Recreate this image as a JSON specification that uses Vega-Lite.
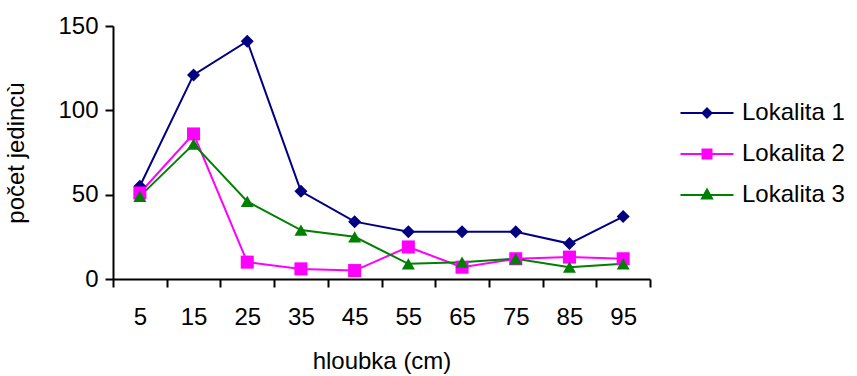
{
  "$schema": "https://vega.github.io/schema/vega-lite/v6.json",
  "autosize": {"type": "none"},
  "padding": {"left": 113, "top": 26, "right": 207, "bottom": 97},
  "width": 537,
  "height": 253,
  "background": "white",
  "config": {
    "view": {"stroke": null},
    "font": "Liberation Sans",
    "axis": {
      "domainColor": "black",
      "domainWidth": 2,
      "tickColor": "black",
      "tickWidth": 2,
      "tickSize": 8,
      "grid": false,
      "labelFont": "Liberation Sans",
      "labelFontSize": 24,
      "labelColor": "black",
      "titleFont": "Liberation Sans",
      "titleFontSize": 24,
      "titleFontWeight": "normal",
      "titleColor": "black"
    }
  },
  "data": {
    "values": [
      {"hloubka": 5, "lokalita": "Lokalita 1", "pocet": 55},
      {"hloubka": 15, "lokalita": "Lokalita 1", "pocet": 121},
      {"hloubka": 25, "lokalita": "Lokalita 1", "pocet": 141},
      {"hloubka": 35, "lokalita": "Lokalita 1", "pocet": 52},
      {"hloubka": 45, "lokalita": "Lokalita 1", "pocet": 34},
      {"hloubka": 55, "lokalita": "Lokalita 1", "pocet": 28},
      {"hloubka": 65, "lokalita": "Lokalita 1", "pocet": 28},
      {"hloubka": 75, "lokalita": "Lokalita 1", "pocet": 28},
      {"hloubka": 85, "lokalita": "Lokalita 1", "pocet": 21},
      {"hloubka": 95, "lokalita": "Lokalita 1", "pocet": 37},
      {"hloubka": 5, "lokalita": "Lokalita 2", "pocet": 51},
      {"hloubka": 15, "lokalita": "Lokalita 2", "pocet": 86},
      {"hloubka": 25, "lokalita": "Lokalita 2", "pocet": 10},
      {"hloubka": 35, "lokalita": "Lokalita 2", "pocet": 6},
      {"hloubka": 45, "lokalita": "Lokalita 2", "pocet": 5},
      {"hloubka": 55, "lokalita": "Lokalita 2", "pocet": 19},
      {"hloubka": 65, "lokalita": "Lokalita 2", "pocet": 7},
      {"hloubka": 75, "lokalita": "Lokalita 2", "pocet": 12},
      {"hloubka": 85, "lokalita": "Lokalita 2", "pocet": 13},
      {"hloubka": 95, "lokalita": "Lokalita 2", "pocet": 12},
      {"hloubka": 5, "lokalita": "Lokalita 3", "pocet": 49},
      {"hloubka": 15, "lokalita": "Lokalita 3", "pocet": 80},
      {"hloubka": 25, "lokalita": "Lokalita 3", "pocet": 46},
      {"hloubka": 35, "lokalita": "Lokalita 3", "pocet": 29},
      {"hloubka": 45, "lokalita": "Lokalita 3", "pocet": 25},
      {"hloubka": 55, "lokalita": "Lokalita 3", "pocet": 9},
      {"hloubka": 65, "lokalita": "Lokalita 3", "pocet": 10},
      {"hloubka": 75, "lokalita": "Lokalita 3", "pocet": 12},
      {"hloubka": 85, "lokalita": "Lokalita 3", "pocet": 7},
      {"hloubka": 95, "lokalita": "Lokalita 3", "pocet": 9}
    ]
  },
  "encoding": {
    "x": {
      "field": "hloubka",
      "type": "ordinal",
      "sort": null,
      "scale": {"type": "band", "paddingInner": 0, "paddingOuter": 0},
      "axis": {
        "title": "hloubka (cm)",
        "labelAngle": 0,
        "tickBand": "extent",
        "labelPadding": 18,
        "titlePadding": 20
      }
    },
    "y": {
      "field": "pocet",
      "type": "quantitative",
      "scale": {"domain": [0, 150], "nice": false},
      "axis": {
        "title": "počet jedincù",
        "values": [0, 50, 100, 150],
        "labelPadding": 7,
        "titlePadding": 29
      }
    }
  },
  "layer": [
    {
      "mark": {"type": "line", "strokeWidth": 2, "opacity": 1},
      "encoding": {
        "color": {
          "field": "lokalita",
          "type": "nominal",
          "scale": {
            "domain": ["Lokalita 1", "Lokalita 2", "Lokalita 3"],
            "range": ["#000080", "#FF00FF", "#008000"]
          },
          "legend": {
            "title": null,
            "orient": "none",
            "legendX": 582,
            "legendY": 75,
            "padding": 0,
            "symbolSize": 400,
            "symbolStrokeWidth": 2,
            "symbolType": {"expr": "datum.value === 'Lokalita 1' ? 'M-2.65,0H2.65M0,-0.45L0.45,0L0,0.45L-0.45,0Z' : datum.value === 'Lokalita 2' ? 'M-2.65,0H2.65M-0.45,-0.45H0.45V0.45H-0.45Z' : 'M-2.65,0H2.65M0,-0.55L0.5,0.35H-0.5Z'"},
            "labelFont": "Liberation Sans",
            "labelFontSize": 24,
            "labelColor": "black",
            "labelOffset": 23,
            "rowPadding": 17,
            "encode": {
              "symbols": {
                "fill": {"value": {"expr": "scale('color', datum.value)"}},
                "stroke": {"value": {"expr": "scale('color', datum.value)"}},
                "strokeWidth": {"value": 2},
                "opacity": {"value": 1}
              }
            }
          }
        }
      }
    },
    {
      "mark": {"type": "point", "filled": true, "opacity": 1, "size": 170, "strokeWidth": 0},
      "encoding": {
        "color": {"field": "lokalita", "type": "nominal", "legend": null},
        "shape": {
          "field": "lokalita",
          "type": "nominal",
          "scale": {"range": ["diamond", "square", "triangle-up"]},
          "legend": null
        }
      }
    }
  ]
}
